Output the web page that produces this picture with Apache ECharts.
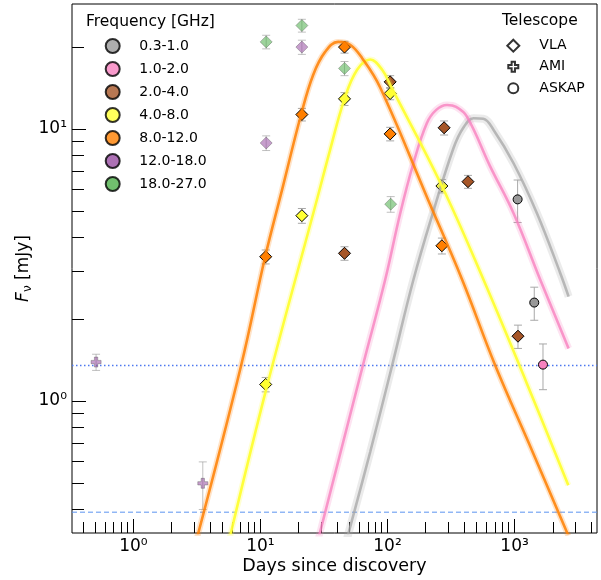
<!DOCTYPE html>
<html><head><meta charset="utf-8">
<script src="https://cdn.jsdelivr.net/npm/echarts@6/dist/echarts.min.js"></script>
<style>html,body{margin:0;padding:0;background:#fff}#c{width:601px;height:580px}</style>
</head><body><div id="c"></div>
<script>
// ---------- categories ----------
const bands = ['0.3-1.0','1.0-2.0','2.0-4.0','4.0-8.0','8.0-12.0','12.0-18.0','18.0-27.0'];
const telescopes = ['VLA','AMI','ASKAP'];

// ---------- tick values ----------
const xMajorTicks = [1, 10, 100, 1000];
const xMinorTicks = [0.4,0.5,0.6,0.7,0.8,0.9,2,3,4,5,6,7,8,9,20,30,40,50,60,70,80,90,200,300,400,500,600,700,800,900,2000,3000,4000];
const yMajorTicks = [1, 10];
const yMinorTicks = [0.4,0.5,0.6,0.7,0.8,0.9,2,3,4,5,6,7,8,9,20];
const xRange = [0.329, 4455];
const yRange = [0.327, 28.8];

// ---------- observations (days, flux mJy, error mJy) ----------
const vla_18_27_days = [11.1, 21.2, 45.9, 106];
const vla_18_27_flux = [20.9, 24.0, 16.7, 5.29];
const vla_18_27_err  = [1.2, 1.3, 1.0, 0.35];

const vla_12_18_days = [11.1, 21.2];
const vla_12_18_flux = [8.88, 20.0];
const vla_12_18_err  = [0.55, 1.2];

const ami_days = [0.509, 3.52];
const ami_flux = [1.39, 0.498];
const ami_err  = [0.095, 0.099];

const vla_8_12_days = [11.0, 21.2, 45.9, 105, 268];
const vla_8_12_flux = [3.39, 11.3, 20.0, 9.59, 3.72];
const vla_8_12_err  = [0.2, 0.6, 1.0, 0.55, 0.25];

const vla_4_8_days = [11.0, 21.2, 45.9, 105, 268];
const vla_4_8_flux = [1.15, 4.80, 12.9, 13.5, 6.17];
const vla_4_8_err  = [0.07, 0.3, 0.7, 0.7, 0.35];

const vla_2_4_days = [45.9, 105, 279, 430, 1064];
const vla_2_4_flux = [3.49, 14.9, 10.1, 6.40, 1.73];
const vla_2_4_err  = [0.2, 0.8, 0.6, 0.35, 0.17];

const askap_03_1_days = [1057, 1429];
const askap_03_1_flux = [5.51, 2.30];
const askap_03_1_err  = [0.98, 0.32];

const askap_1_2_days = [1674];
const askap_1_2_flux = [1.36];
const askap_1_2_err  = [0.26];

// ---------- model curves ----------
const model_8_12_days = [3.15, 7.05, 10.9, 14.8, 20.9, 26.0, 32.3, 40.9, 50.8, 63.2, 87.6, 209, 387, 705, 1377, 2650];
const model_8_12_flux = [0.31, 1.35, 3.39, 5.97, 11.3, 15.8, 19.2, 20.9, 20.4, 18.2, 14.2, 5.48, 2.79, 1.35, 0.655, 0.32];

const model_4_8_days = [5.7, 11.36, 27.8, 35.4, 45.9, 57.7, 73.1, 90.8, 108, 268, 570, 1236, 2650];
const model_4_8_flux = [0.31, 1.15, 5.48, 8.4, 12.9, 16.5, 18.0, 16.5, 14.15, 6.17, 2.79, 1.175, 0.49];

const model_1_2_days = [28, 64.0, 95.9, 126, 160, 204, 242, 294, 347, 422, 644, 982, 1593, 2663];
const model_1_2_flux = [0.30, 1.35, 2.79, 4.90, 7.48, 10.5, 11.75, 12.25, 12.05, 11.1, 7.27, 4.90, 2.79, 1.56];

const model_03_1_days = [47, 73.1, 108.5, 160, 230, 331, 395, 475, 567, 684, 982, 1500, 2290, 2663];
const model_03_1_flux = [0.30, 0.649, 1.345, 2.79, 4.99, 8.51, 10.1, 10.95, 10.9, 9.92, 7.48, 4.90, 2.95, 2.42];

const detectionLevels = [1.35, 0.39];

// ---------- styles ----------
const FONT = 'DejaVu Sans';
const bandColors = ['#999999','#f781bf','#a65628','#ffff33','#ff7f00','#984ea3','#4daf4a'];
const plusPath = 'path://M-1,-3L1,-3L1,-1L3,-1L3,1L1,1L1,3L-1,3L-1,1L-3,1L-3,-1L-1,-1Z';
const sup = {0:'⁰',1:'¹',2:'²',3:'³'};

function zip(a, b){ return a.map((v,i)=>[v, b[i]]); }

function errSeries(days, flux, err, faded){
  const col = faded ? 'rgba(150,150,150,0.6)' : '#a8a8a8';
  return {
    type:'custom', xAxisIndex:0, yAxisIndex:0, z:1, silent:true,
    data: days.map((d,i)=>[d, flux[i]-err[i], flux[i]+err[i]]),
    encode:{x:0, y:[1,2]},
    renderItem:function(params, api){
      const lo = api.coord([api.value(0), api.value(1)]);
      const hi = api.coord([api.value(0), api.value(2)]);
      const w = 4;
      const st = {stroke:col, lineWidth:1};
      return {type:'group', children:[
        {type:'line', shape:{x1:lo[0],y1:lo[1],x2:hi[0],y2:hi[1]}, style:st},
        {type:'line', shape:{x1:lo[0]-w,y1:lo[1],x2:lo[0]+w,y2:lo[1]}, style:st},
        {type:'line', shape:{x1:hi[0]-w,y1:hi[1],x2:hi[0]+w,y2:hi[1]}, style:st}
      ]};
    }
  };
}

function ptSeries(days, flux, color, symbol, size, faded){
  return {
    type:'scatter', xAxisIndex:0, yAxisIndex:0, z:2, silent:true,
    data: zip(days, flux), symbol:symbol, symbolSize:size,
    itemStyle:{color:color, borderColor: faded ? 'rgba(60,60,60,0.6)' : '#000', borderWidth:1, opacity: faded ? 0.55 : 1}
  };
}

function curveSeries(days, flux, color, coreOpacity, glowWidth){
  const d = zip(days, flux);
  const base = {type:'line', xAxisIndex:0, yAxisIndex:0, showSymbol:false, symbol:'none', silent:true,
    smooth:0.4, data:d};
  return [
    Object.assign({}, base, {z:3, lineStyle:{color:color, width:glowWidth, opacity:0.22}}),
    Object.assign({}, base, {z:4, lineStyle:{color:color, width:2.6, opacity:coreOpacity}})
  ];
}

function levelSeries(level, color, dash, width){
  return {type:'line', xAxisIndex:0, yAxisIndex:0, z:0, silent:true, showSymbol:false, symbol:'none',
    data:[[xRange[0], level], [xRange[1], level]],
    lineStyle:{color:color, width:width, type:dash}};
}

const series = [];
// horizontal reference lines
series.push(levelSeries(detectionLevels[0], '#4d78f0', [1.5, 2.5], 1.3));
series.push(levelSeries(detectionLevels[1], '#5b93f0', [5, 3], 1));

// error bars
series.push(errSeries(vla_18_27_days, vla_18_27_flux, vla_18_27_err, true));
series.push(errSeries(vla_12_18_days, vla_12_18_flux, vla_12_18_err, true));
series.push(errSeries(ami_days, ami_flux, ami_err, true));
series.push(errSeries(vla_8_12_days, vla_8_12_flux, vla_8_12_err, false));
series.push(errSeries(vla_4_8_days, vla_4_8_flux, vla_4_8_err, false));
series.push(errSeries(vla_2_4_days, vla_2_4_flux, vla_2_4_err, false));
series.push(errSeries(askap_03_1_days, askap_03_1_flux, askap_03_1_err, false));
series.push(errSeries(askap_1_2_days, askap_1_2_flux, askap_1_2_err, false));

// points
series.push(ptSeries(vla_18_27_days, vla_18_27_flux, bandColors[6], 'diamond', 12, true));
series.push(ptSeries(vla_12_18_days, vla_12_18_flux, bandColors[5], 'diamond', 12, true));
series.push(ptSeries(ami_days, ami_flux, bandColors[5], plusPath, 10, true));
series.push(ptSeries(vla_8_12_days, vla_8_12_flux, bandColors[4], 'diamond', 12, false));
series.push(ptSeries(vla_4_8_days, vla_4_8_flux, bandColors[3], 'diamond', 12, false));
series.push(ptSeries(vla_2_4_days, vla_2_4_flux, bandColors[2], 'diamond', 12, false));
series.push(ptSeries(askap_03_1_days, askap_03_1_flux, bandColors[0], 'circle', 9, false));
series.push(ptSeries(askap_1_2_days, askap_1_2_flux, bandColors[1], 'circle', 9, false));

// model curves (drawn over the points)
series.push(...curveSeries(model_03_1_days, model_03_1_flux, '#a6a6a6', 0.75, 8));
series.push(...curveSeries(model_1_2_days, model_1_2_flux, '#f781bf', 0.8, 7));
series.push(...curveSeries(model_4_8_days, model_4_8_flux, '#ffff33', 0.95, 6));
series.push(...curveSeries(model_8_12_days, model_8_12_flux, '#ff7f00', 0.85, 6));

// legend-only series
bands.forEach((b,i)=>{
  series.push({type:'scatter', name:b, data:[], xAxisIndex:0, yAxisIndex:0, symbol:'circle',
    itemStyle:{color:bandColors[i], borderColor:'#000', borderWidth:1}});
});
const telSymbols = ['diamond', plusPath, 'circle'];
telescopes.forEach((t,i)=>{
  series.push({type:'scatter', name:t, data:[], xAxisIndex:0, yAxisIndex:0, symbol:telSymbols[i],
    itemStyle:{color:'#fff', borderColor:'#000', borderWidth:1}});
});

const telLegend = telescopes.map((t,i)=>{
  const sz = [12, 10, 10][i];
  const cy = [45.7, 66.7, 88.3][i];
  return {
    data:[{name:t, icon: telSymbols[i]}], orient:'vertical', selectedMode:false,
    left: 512.3 - sz/2, top: cy - 8, padding:0,
    itemWidth:sz, itemHeight:sz,
    textStyle:{fontFamily:FONT, fontSize:14, color:'#000', lineHeight:16, padding:[0,0,0,538.3-(512.3-sz/2)-sz-5]}
  };
});

const option = {
  animation:false,
  backgroundColor:'#fff',
  textStyle:{fontFamily:FONT},
  grid:{left:72, top:4, width:525, height:529, show:true, borderColor:'#000', borderWidth:1,
        backgroundColor:'transparent', containLabel:false, outerBoundsMode:'none'},
  title:[
    {text:'Frequency [GHz]', left:86, top:14, padding:0, textStyle:{fontFamily:FONT, fontSize:15.5, fontWeight:'normal', color:'#000'}},
    {text:'Telescope', left:502, top:13, padding:0, textStyle:{fontFamily:FONT, fontSize:15.5, fontWeight:'normal', color:'#000'}}
  ],
  legend:[
    {data: bands.map(b=>({name:b, icon:'circle'})), orient:'vertical', selectedMode:false,
     left:104.7, top:38, padding:0, itemWidth:14, itemHeight:14, itemGap:7,
     textStyle:{fontFamily:FONT, fontSize:14, color:'#000', lineHeight:14, padding:[0,0,0,14.6]}}
  ].concat(telLegend),
  xAxis:[
    {type:'log', min:xRange[0], max:xRange[1], position:'bottom',
     axisLine:{show:false}, splitLine:{show:false}, axisLabel:{show:false},
     axisTick:{show:true, inside:true, length:11, customValues:xMinorTicks, lineStyle:{color:'#000', width:1}}},
    {type:'log', min:xRange[0], max:xRange[1], position:'bottom',
     name:'Days since discovery', nameLocation:'middle', nameGap:24, nameMoveOverlap:false,
     nameTextStyle:{fontFamily:FONT, fontSize:17.5, color:'#000'},
     axisLine:{show:false}, splitLine:{show:false},
     axisTick:{show:true, inside:true, length:14, customValues:xMajorTicks, lineStyle:{color:'#000', width:1}},
     axisLabel:{customValues:xMajorTicks, fontFamily:FONT, fontSize:17, color:'#000', margin:5,
       formatter:v=>'10'+sup[Math.round(Math.log10(v))]}}
  ],
  yAxis:[
    {type:'log', min:yRange[0], max:yRange[1], position:'left',
     axisLine:{show:false}, splitLine:{show:false}, axisLabel:{show:false},
     axisTick:{show:true, inside:true, length:12, customValues:yMinorTicks, lineStyle:{color:'#000', width:1}}},
    {type:'log', min:yRange[0], max:yRange[1], position:'left',
     name:'{f|F}{n|ν} [mJy]', nameLocation:'middle', nameGap:38, nameMoveOverlap:false,
     nameTextStyle:{fontFamily:FONT, fontSize:17, color:'#000',
       rich:{f:{fontFamily:FONT, fontSize:17, fontStyle:'italic'}, n:{fontFamily:FONT, fontSize:12, padding:[8,0,0,0]}}},
     axisLine:{show:false}, splitLine:{show:false},
     axisTick:{show:true, inside:true, length:14, customValues:yMajorTicks, lineStyle:{color:'#000', width:1}},
     axisLabel:{customValues:yMajorTicks, fontFamily:FONT, fontSize:17, color:'#000', margin:5,
       formatter:v=>'10'+sup[Math.round(Math.log10(v))]}}
  ],
  series: series
};

const chart = echarts.init(document.getElementById('c'), null, {renderer:'canvas'});
chart.setOption(option);
</script></body></html>
